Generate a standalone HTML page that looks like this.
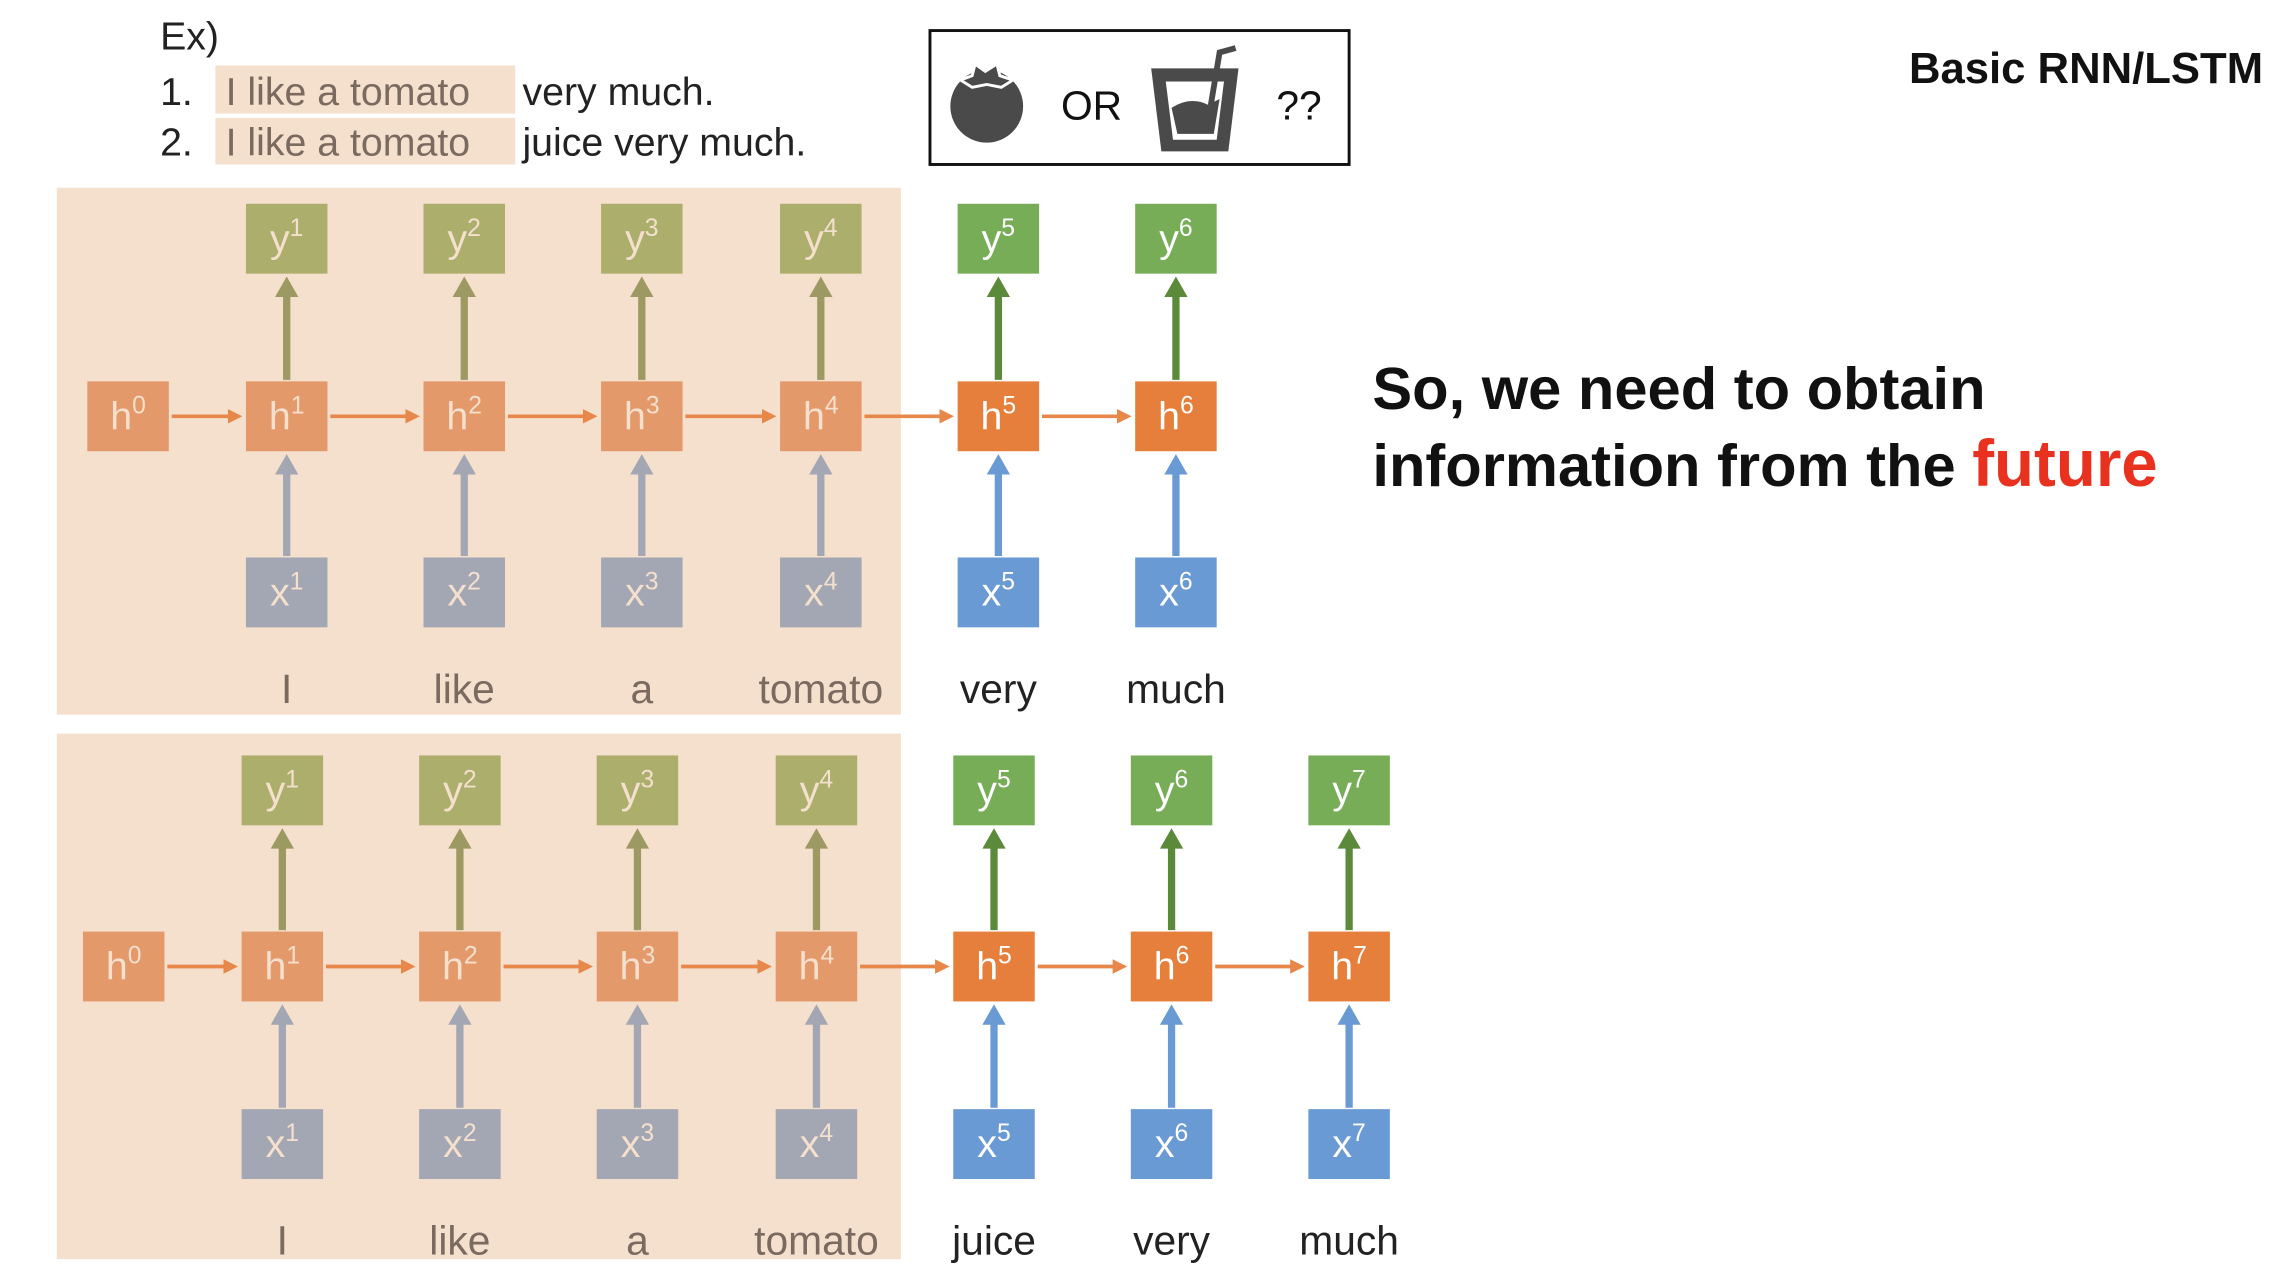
<!DOCTYPE html>
<html><head><meta charset="utf-8"><style>
html,body{margin:0;padding:0;background:#fff;overflow:hidden}
svg{display:block}
text{font-family:"Liberation Sans","Noto Sans CJK JP",sans-serif}
</style></head><body>
<svg id="s" width="2282" height="1278" viewBox="0 0 1568 878" preserveAspectRatio="none">
<defs>
<marker id="ao" markerWidth="4" markerHeight="4" refX="3" refY="2" orient="auto" markerUnits="strokeWidth"><path d="M0,0 L4,2 L0,4z" fill="#e8874a"/></marker>
</defs>
<text x="110" y="34" font-size="27" fill="#222">Ex)</text>
<rect x="148" y="45" width="206" height="33" fill="#f5dfcd"/>
<rect x="148" y="81" width="206" height="32" fill="#f5dfcd"/>
<text x="110" y="72" font-size="27" fill="#222">1.<tspan x="155" fill="#7a6a60">I like a tomato</tspan><tspan x="359">very much.</tspan></text>
<text x="110" y="107" font-size="27" fill="#222">2.<tspan x="155" fill="#7a6a60">I like a tomato</tspan><tspan x="359">juice very much.</tspan></text>
<g>
<rect x="639" y="21" width="288" height="92" fill="#fff" stroke="#111" stroke-width="2"/>
<g fill="#4a4a4a"><circle cx="678" cy="73" r="25"/><path d="M660,55 L668,52 L670,44 L677,49 L685,44 L687,52 L696,55 L688,60 L678,58 L668,60z" fill="#4a4a4a" stroke="#fff" stroke-width="2"/></g>
<text x="729" y="82" font-size="28" fill="#111">OR</text>
<g><path d="M791,47 L851,47 L844,104 L798,104z" fill="#4a4a4a"/><path d="M801,56 L841,56 L836,96 L806,96z" fill="#fff"/><path d="M805,74 Q818,66 830,72 L838,68 L834,92 L809,92z" fill="#4a4a4a"/><path d="M832,72 L838,36 L849,33" stroke="#4a4a4a" stroke-width="4" fill="none"/></g>
<text x="877" y="82" font-size="28" fill="#111">??</text>
</g>
<text x="1555" y="57" font-size="30" font-weight="bold" fill="#111" text-anchor="end">Basic RNN/LSTM</text>
<text x="943" y="281" font-size="41" font-weight="bold" fill="#111">So, we need to obtain</text>
<text x="943" y="334" font-size="41" font-weight="bold" fill="#111">information from the <tspan fill="#e8321f" font-size="45">future</tspan></text>
<rect x="39" y="129" width="580" height="362" fill="#f5dfcd"/>
<rect x="39" y="504" width="580" height="361" fill="#f5dfcd"/>
<g id="g"></g>
</svg>
<script>
const words1 = ["I","like","a","tomato","very","much"];
const words2 = ["I","like","a","tomato","juice","very","much"];
const cols1 = [88,197,319,441,564,686,808];
const cols2 = [85,194,316,438,561,683,805,927];
const rows1 = [140,262,383,474];
const rows2 = [519,640,762,853];
const faded = 4;
const g = document.getElementById('g');
const NS = 'http://www.w3.org/2000/svg';
function mk(tag, a){const e=document.createElementNS(NS,tag);for(const k in a)e.setAttribute(k,a[k]);g.appendChild(e);return e;}
function box(cx,y,fill,txt,sup,tc,name){
  const r=mk('rect',{x:cx-28,y:y,width:56,height:48,fill:fill});
  
  
  const t=mk('text',{x:cx,y:y+33,'font-size':27,fill:tc,'text-anchor':'middle'});
  
  
  t.innerHTML=txt+'<tspan font-size="17" dy="-11">'+sup+'</tspan>';
}
function arrowUp(cx,y1,y2,col,name){
  const l=mk('line',{x1:cx,y1:y1,x2:cx,y2:y2+12,stroke:col,'stroke-width':5});
  
  
  const p=mk('path',{d:`M${cx-8},${y2+14} L${cx},${y2} L${cx+8},${y2+14}z`,fill:col});
  
  
}
function drawPanel(words, cols, rows, pid){
  box(cols[0],rows[1],'#e3996a','h',0,'#f5dfcd',pid+'-h0');
  for(let i=0;i<words.length;i++){
    const cx=cols[i+1], f=i<faded;
    box(cx,rows[0],f?'#acae6c':'#77ad57','y',i+1,f?'#f5dfcd':'#fff',pid+'-y'+(i+1));
    box(cx,rows[1],f?'#e3996a':'#e57f3b','h',i+1,f?'#f5dfcd':'#fff',pid+'-h'+(i+1));
    box(cx,rows[2],f?'#a3a7b3':'#6a9ad3','x',i+1,f?'#f5dfcd':'#fff',pid+'-x'+(i+1));
    arrowUp(cx,rows[1]-1,rows[0]+50,f?'#9c9a62':'#5b8a3a',pid+'-arrow-h-y'+(i+1));
    arrowUp(cx,rows[2]-1,rows[1]+50,f?'#a3a7b3':'#6a9ad3',pid+'-arrow-x-h'+(i+1));
    const l=mk('line',{x1:cols[i]+30,y1:rows[1]+24,x2:cx-33,y2:rows[1]+24,stroke:'#e8874a','stroke-width':2.5,'marker-end':'url(#ao)'});
    
    
    const w=mk('text',{x:cx,y:rows[3]+9,'font-size':28,fill:f?'#7a6a60':'#222','text-anchor':'middle'});
    
    
    w.textContent=words[i];
  }
}
drawPanel(words1,cols1,rows1,'panel1');
drawPanel(words2,cols2,rows2,'panel2');
</script>
</body></html>
